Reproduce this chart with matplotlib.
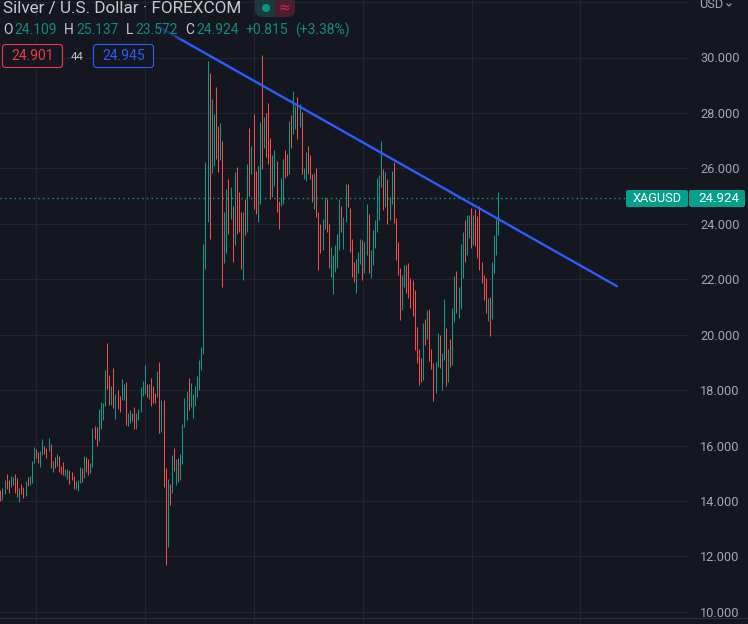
import matplotlib
matplotlib.use("Agg")
import matplotlib.pyplot as plt
from matplotlib.patches import FancyBboxPatch, Rectangle, Circle
import numpy as np

plt.rcParams['font.family'] = ['Roboto', 'DejaVu Sans']

BG = "#141720"
GRID = "#21252f"
GREEN = "#04a08b"
RED = "#fb4a4a"
BLUE = "#2a5cff"
AXIS_TXT = "#a3a5ad"
TITLE_TXT = "#c6c8ce"
TEAL_TXT = "#0f8c7c"

highs = [
14.39,14.48,14.75,14.97,14.75,14.90,14.86,14.97,14.83,14.47,
14.61,14.50,14.72,14.86,14.90,15.44,15.94,15.87,15.76,15.80,
16.23,15.98,15.91,16.27,16.05,15.44,15.58,15.69,15.62,15.26,
15.40,15.15,15.15,15.11,15.04,14.90,14.72,14.75,15.22,15.19,
15.62,15.58,15.51,15.36,16.63,16.70,16.66,17.31,17.56,17.53,
18.71,19.69,18.53,18.14,18.79,17.85,17.99,17.78,18.39,18.21,
18.28,17.17,17.27,17.17,17.38,17.17,17.31,18.10,18.32,18.89,
18.21,18.21,18.43,18.14,17.89,18.68,19.00,17.63,17.63,15.19,
14.79,14.61,15.65,15.91,15.51,15.55,15.69,16.77,17.71,17.96,
18.43,18.25,17.85,18.14,18.50,19.07,19.54,23.29,26.24,29.88,
29.45,28.51,27.97,28.94,27.54,27.65,27.00,24.44,25.24,25.60,
25.34,24.66,25.88,26.06,25.13,24.44,24.44,24.91,26.17,27.47,
26.82,27.97,25.92,26.10,27.68,30.10,27.86,28.01,28.37,27.11,
26.50,26.68,26.28,24.84,25.67,26.35,26.68,26.53,27.72,27.94,
28.80,28.26,28.58,28.33,28.04,26.03,26.60,26.82,26.50,25.81,
25.85,26.03,24.41,24.01,24.16,24.95,24.88,24.01,23.18,22.89,
23.22,23.65,24.88,24.66,24.23,25.42,25.45,24.58,23.47,22.64,
22.72,22.97,23.47,23.40,23.36,24.73,24.37,23.07,23.76,24.12,
25.66,25.77,27.00,25.99,25.88,25.63,24.98,25.92,26.24,24.22,
23.33,22.42,22.14,22.50,22.53,22.57,22.06,21.99,21.60,20.26,
19.47,19.15,20.44,20.55,20.88,20.91,19.47,18.97,19.01,20.05,
19.98,19.33,21.27,20.23,19.47,19.83,20.95,22.10,22.28,21.71,
23.29,23.72,24.15,24.33,24.33,24.58,24.33,24.55,24.30,24.66,
22.64,22.14,22.03,21.31,21.35,22.64,23.58,24.19,25.16]

lows = [
14.00,14.05,14.25,14.43,14.28,14.50,14.57,14.28,14.14,13.96,
14.25,14.10,14.18,14.54,14.57,14.65,15.37,15.55,15.37,15.22,
15.65,15.69,15.55,15.80,15.19,15.04,15.19,15.26,15.04,14.97,
14.93,14.90,14.79,14.61,14.75,14.43,14.43,14.36,14.65,14.68,
14.83,15.04,14.93,15.01,15.22,16.23,15.98,16.16,16.59,16.91,
17.42,18.03,17.45,17.45,17.35,16.95,17.31,17.20,17.63,17.63,
16.73,16.70,16.81,16.88,16.59,16.59,16.91,17.20,17.78,17.85,
17.74,17.67,17.42,17.53,17.53,17.74,16.45,16.48,14.50,11.69,
12.34,13.85,14.28,15.08,14.57,14.68,14.75,15.33,16.66,16.91,
17.27,17.38,16.99,17.42,17.74,17.99,18.71,19.29,22.36,24.08,
23.47,25.85,26.10,26.35,25.88,26.32,21.71,22.57,22.93,23.62,
24.16,22.64,23.25,23.62,23.69,22.36,21.96,23.58,23.72,25.02,
25.81,24.52,24.37,24.08,24.73,25.96,26.75,26.42,26.17,24.88,
24.98,25.38,24.44,23.83,24.66,24.73,25.67,25.74,25.81,26.75,
27.25,27.43,27.07,27.50,25.78,25.60,25.56,25.81,25.63,24.80,
24.55,24.23,22.32,22.93,23.04,23.80,23.69,22.39,22.07,21.46,
22.25,22.39,23.04,23.69,23.08,24.08,24.59,22.97,22.07,21.89,
21.49,22.21,22.54,21.99,22.24,22.86,22.21,22.06,22.53,23.11,
23.72,24.12,25.34,24.51,24.62,24.01,24.15,24.73,24.04,22.71,
22.14,20.52,20.88,21.71,21.49,21.31,20.95,20.66,19.44,18.97,
18.18,18.28,18.36,19.62,19.83,19.04,18.75,17.60,17.89,18.83,
18.79,18.00,19.08,18.14,18.28,18.83,18.90,20.45,20.80,20.62,
20.91,22.06,22.61,22.89,23.50,23.14,23.25,23.21,22.78,22.32,
21.88,21.24,20.77,20.48,19.94,20.55,22.21,22.86,23.61]

directions = (
"rggrrggrrg" "rrgrgggrrg" "grrgrgrgrr" "rggrrrgggr" "grrggrrggg"
"grrgrgrrgg" "rggrrggggg" "rgrrrgrgrr" "grgrgrgggg" "rggggggggg"
"rggrrgrggr" "grgrrrgrgr" "grrggrgrrr" "ggrrggrrgr" "ggrgrggrrr"
"grrrggrrgg" "gggrggrrrr" "gggrggrggg" "gggrgrggrr" "rrggrrrrrr"
"rrgrgrrrgg" "rggrgrggrg" "ggrggrgrrr" "rrrgrgggg")

y_ticks = [10, 12, 14, 16, 18, 20, 22, 24, 26, 28, 30]
y_top_grid = 32
x_grid = [17.2, 69.2, 121.2, 173.2, 225.2, 277.2]
trend_x = [75.3, 294.7]
trend_y = [31.12, 21.75]
last_price = 24.924

W, H = 748, 624
fig = plt.figure(figsize=(W / 100, H / 100), dpi=100, facecolor=BG)

pane = 688
ax = fig.add_axes([0, 0, pane / W, 1], facecolor=BG)
px_per_bar = 2.092
ax.set_xlim(-0.4 / px_per_bar, (pane - 0.4) / px_per_bar)
ax.set_ylim(30 - (H - 57.5) / 27.72, 30 + 57.5 / 27.72)

for s in ax.spines.values():
    s.set_visible(False)
ax.yaxis.tick_right()
ax.set_yticks(y_ticks + [y_top_grid])
ax.set_yticklabels([f"{v:.3f}" for v in y_ticks] + [""], color=AXIS_TXT, fontsize=9.2)
ax.tick_params(axis='y', length=0, pad=8.6)
for lab in ax.get_yticklabels():
    lab.set_verticalalignment('center_baseline')
ax.set_xticks(x_grid)
ax.tick_params(axis='x', length=0, labelbottom=False)
ax.grid(True, color=GRID, linewidth=0.75)
ax.set_axisbelow(True)

idx = np.arange(len(highs))
cols = [GREEN if d == 'g' else RED for d in directions]
bars = ax.vlines(idx, lows, highs, colors=cols, linewidth=0.72, zorder=3)
bars.set_snap(True)

ax.axhline(last_price, color=GREEN, linewidth=1.0, linestyle=(0, (1, 2.4)), zorder=2)
ax.plot(trend_x, trend_y, color=BLUE, linewidth=1.7, zorder=4, solid_capstyle='round')

# overlay in pixel coordinates for the chart's header and price label
ui = fig.add_axes([0, 0, 1, 1], facecolor='none')
ui.set_xlim(0, W)
ui.set_ylim(H, 0)
ui.axis('off')

ui.plot([0, W], [617.5, 617.5], color="#2a2e39", linewidth=0.8)

ui.add_patch(Rectangle((0, 20), 175, 19, facecolor=BG, alpha=0.65, edgecolor='none'))
ui.add_patch(Rectangle((175, 20), 14, 19, facecolor=BG, alpha=0.3, edgecolor='none'))

ui.text(3, 8.5, "Silver / U.S. Dollar · FOREXCOM", color=TITLE_TXT, fontsize=12.35,
        va='center', ha='left')

ui.add_patch(FancyBboxPatch((255, -10), 40, 27, boxstyle="round,pad=0,rounding_size=8",
                            facecolor="#1c3a3b", edgecolor='none'))
red_half = FancyBboxPatch((255, -10), 40, 27, boxstyle="round,pad=0,rounding_size=8",
                          facecolor="#4a1e30", edgecolor='none')
ui.add_patch(red_half)
red_half.set_clip_path(Rectangle((275, -10), 20, 27, transform=ui.transData))
ui.add_patch(Circle((266, 8), 4, facecolor="#079a82", edgecolor='none'))
ui.text(284, 8, "≈", color="#d8255a", fontsize=10, ha='center', va='center',
        family=['DejaVu Sans'])

row_y = 30
for x, txt, c in [(3, "O", TITLE_TXT), (14, "24.109", TEAL_TXT), (64, "H", TITLE_TXT),
                  (76, "25.137", TEAL_TXT), (126, "L", TITLE_TXT), (135, "23.572", TEAL_TXT),
                  (185, "C", TITLE_TXT), (196, "24.924", TEAL_TXT),
                  (246, "+0.815", TEAL_TXT), (295, "(+3.38%)", TEAL_TXT)]:
    ui.text(x, row_y, txt, color=c, fontsize=10, va='center', ha='left', zorder=6)

ui.add_patch(FancyBboxPatch((2.5, 44.5), 60, 23, boxstyle="round,pad=0,rounding_size=3",
                            facecolor=BG, edgecolor="#f23645", linewidth=0.8))
ui.text(32.5, 56.5, "24.901", color="#f23645", fontsize=10, ha='center', va='center')
ui.text(77.5, 56.5, "44", color="#c0c2c8", fontsize=8.2, ha='center', va='center')
ui.add_patch(FancyBboxPatch((93.5, 44.5), 60, 23, boxstyle="round,pad=0,rounding_size=3",
                            facecolor=BG, edgecolor=BLUE, linewidth=0.8))
ui.text(123.5, 56.5, "24.945", color=BLUE, fontsize=10, ha='center', va='center')

ui.text(699.5, 5, "USD", color=AXIS_TXT, fontsize=9.2, ha='left', va='center')
ui.plot([727, 729, 731], [4, 6, 4], color=AXIS_TXT, linewidth=0.8)

ui.add_patch(FancyBboxPatch((626, 190), 62, 17, boxstyle="round,pad=0,rounding_size=2",
                            facecolor=GREEN, edgecolor='none'))
ui.add_patch(FancyBboxPatch((689, 190), 56, 17, boxstyle="round,pad=0,rounding_size=2",
                            facecolor=GREEN, edgecolor='none'))
ui.text(657, 198.5, "XAGUSD", color="white", fontsize=9.2, ha='center', va='center')
ui.text(719, 198.5, "24.924", color="white", fontsize=9.6, ha='center', va='center')

fig.savefig("out.png", dpi=100, facecolor=BG)
